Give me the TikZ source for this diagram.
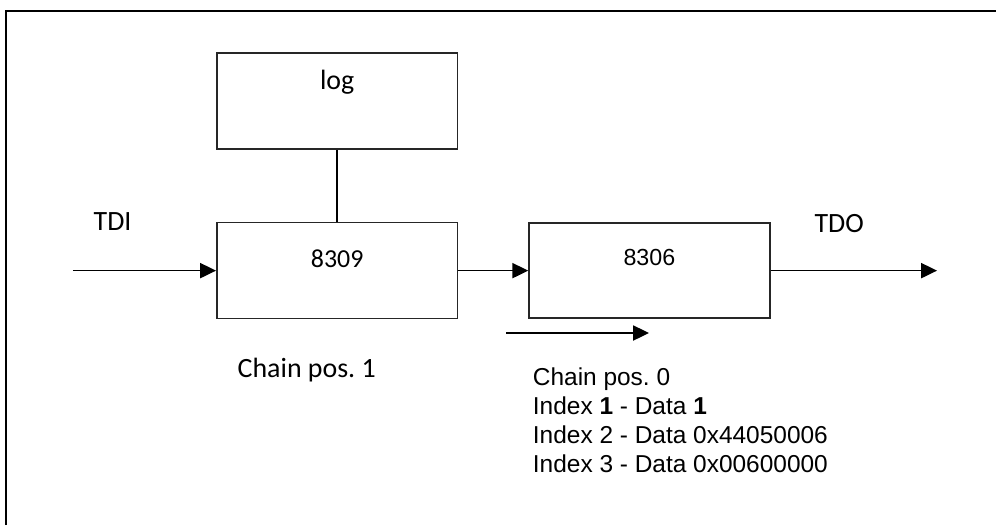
\documentclass[tikz,border=0pt]{standalone}
\usepackage{fontspec}
\usepackage{tikz}
\usetikzlibrary{arrows.meta}
\newfontfamily\calibri{Carlito}
\newfontfamily\arial{Liberation Sans}

\begin{document}
\begin{tikzpicture}[line width=1.1pt, >={Triangle[length=4.2mm,width=4mm]},
    box/.style={draw=black!85, inner sep=0pt, minimum width=6.37cm, anchor=center}]
  \useasboundingbox (0,0) rectangle (26.35,-13.89);
  % frame
  \draw[line width=1.5pt] (0.16,-13.89) |- (26.35,-0.29);

  \node[box, font=\calibri\fontsize{21}{24}\selectfont, text height=0.98cm, text depth=1.56cm] (log) at (8.92,-2.67) {log};
  \node[box, font=\calibri\fontsize{19.5}{23}\selectfont, text height=1.19cm, text depth=1.35cm] (dev9) at (8.92,-7.16) {8309};
  \node[box, font=\arial\fontsize{17.5}{21}\selectfont, text height=1.11cm, text depth=1.40cm] (dev6) at (17.18,-7.16) {8306};

  \node[font=\calibri\fontsize{21}{24}\selectfont, anchor=base] (tdi) at (2.98,-6.09) {TDI};
  \node[font=\calibri\fontsize{21}{24}\selectfont, anchor=base] (tdo) at (22.20,-6.16) {TDO};
  \node[font=\calibri\fontsize{21}{24}\selectfont, anchor=base west, inner sep=0pt] (pos1) at (6.27,-10.00) {Chain pos.\ 1};
  \node[font=\arial\fontsize{18.4}{21.75}\selectfont, anchor=north west, inner sep=0pt, align=left] (pos0) at (14.08,-9.71)
    {Chain pos.\ 0\\Index \textbf{1} - Data \textbf{1}\\Index 2 - Data 0x44050006\\Index 3 - Data 0x00600000};

  \coordinate (tdiin) at (1.93,-7.16);
  \coordinate (tdoout) at (24.79,-7.16);
  \coordinate (s0) at (13.39,-8.81);
  \coordinate (s1) at (17.17,-8.81);

  \draw (log) -- (dev9);
  \draw[->] (tdiin) -- (dev9);
  \draw[->] (dev9) -- (dev6);
  \draw[->] (dev6) -- (tdoout);
  \draw[->] (s0) -- (s1);
\end{tikzpicture}
\end{document}
